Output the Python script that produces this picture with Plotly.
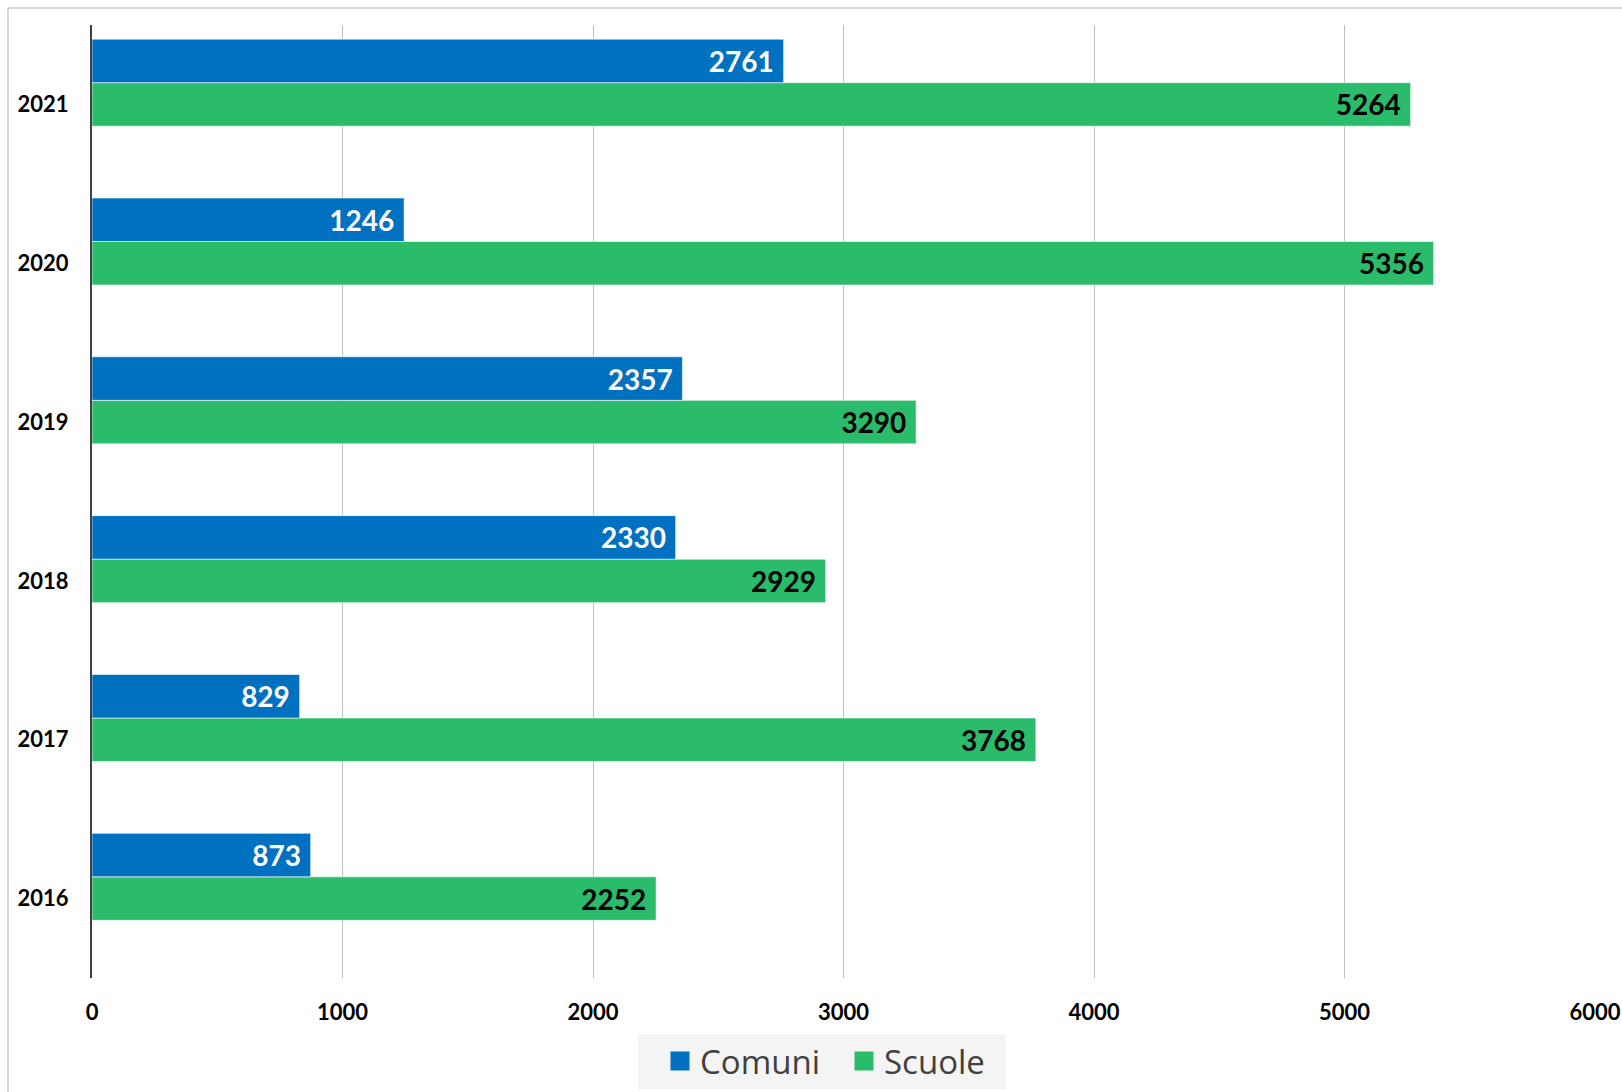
import plotly.graph_objects as go

years = ["2016", "2017", "2018", "2019", "2020", "2021"]
comuni = [873, 829, 2330, 2357, 1246, 2761]
scuole = [2252, 3768, 2929, 3290, 5356, 5264]
x_ticks = [0, 1000, 2000, 3000, 4000, 5000, 6000]

BLUE = "#0070C0"
GREEN = "#2ABC6B"

W, H = 1622, 1092
L, R, T, B = 92, 27, 25, 114
pw, ph = W - L - R, H - T - B

def px_x(p):
    return (p - L) / pw

def px_y(p):
    return (H - B - p) / ph

SLOT = 0.274  # bar thickness in category units (three slots per category, last one empty)

fig = go.Figure()

fig.add_trace(go.Bar(
    name="Scuole", y=years, x=scuole, orientation="h",
    width=SLOT, offset=-SLOT / 2,
    marker=dict(color=GREEN, line=dict(color="rgba(255,255,255,0.6)", width=1)),
    texttemplate="%{x}\u00a0", textposition="inside", insidetextanchor="end",
    textfont=dict(family="Lato", size=28, color="#000000", weight="bold"),
    showlegend=False, hoverinfo="x+y",
))
fig.add_trace(go.Bar(
    name="Comuni", y=years, x=comuni, orientation="h",
    width=SLOT, offset=SLOT / 2,
    marker=dict(color=BLUE, line=dict(color="rgba(255,255,255,0.6)", width=1)),
    texttemplate="%{x}\u00a0", textposition="inside", insidetextanchor="end",
    textfont=dict(family="Lato", size=28, color="#ffffff", weight="bold"),
    showlegend=False, hoverinfo="x+y",
))

# legend entries
fig.add_trace(go.Scatter(x=[None], y=[None], mode="markers", name="Comuni",
                         marker=dict(symbol="square", size=16, color=BLUE,
                                     line=dict(color=BLUE, width=3))))
fig.add_trace(go.Scatter(x=[None], y=[None], mode="markers", name="Scuole",
                         marker=dict(symbol="square", size=16, color=GREEN,
                                     line=dict(color=GREEN, width=3))))

fig.update_layout(
    width=W, height=H,
    margin=dict(l=L, r=R, t=T, b=B, autoexpand=False),
    paper_bgcolor="white", plot_bgcolor="white",
    barmode="overlay",
    uniformtext=dict(mode=False),
    font=dict(family="Lato", color="#000000"),
    legend=dict(
        orientation="h", x=px_x(660), y=px_y(1061), xanchor="left", yanchor="middle",
        bgcolor="rgba(0,0,0,0)", font=dict(family="Open Sans", size=33, color="#404040"),
        itemwidth=30, entrywidth=139, entrywidthmode="pixels",
    ),
    xaxis=dict(
        range=[0, 6000], tickvals=x_ticks, ticktext=[str(v) for v in x_ticks],
        showgrid=True, gridcolor="#bfbfbf", gridwidth=1.3, zeroline=False,
        showline=False, ticks="", ticklabelstandoff=19,
        tickfont=dict(family="Lato", size=22, color="#000000", weight="bold"),
        layer="above traces",
    ),
    yaxis=dict(
        type="category", categoryorder="array", categoryarray=years,
        range=[-0.5, 5.5], showgrid=False, zeroline=False,
        showline=True, linecolor="#404040", linewidth=2.2,
        ticks="", ticklabelstandoff=17,
        tickfont=dict(family="Lato", size=22, color="#000000", weight="bold"),
    ),
    shapes=[
        # legend background
        dict(type="rect", xref="paper", yref="paper", layer="below",
             x0=px_x(638), x1=px_x(1006), y0=px_y(1089), y1=px_y(1034),
             fillcolor="#f4f4f4", line=dict(width=0)),
        # chart frame (clipped)
        dict(type="line", xref="paper", yref="paper", x0=px_x(8), x1=px_x(W + 5),
             y0=px_y(8), y1=px_y(8), line=dict(color="#c8c8c8", width=1.5)),
        dict(type="line", xref="paper", yref="paper", x0=px_x(8), x1=px_x(8),
             y0=px_y(8), y1=px_y(H + 5), line=dict(color="#c8c8c8", width=1.5)),
    ],
)

fig.write_html("out.html", config={"displayModeBar": False},
               post_script="document.body.style.margin='0';")
